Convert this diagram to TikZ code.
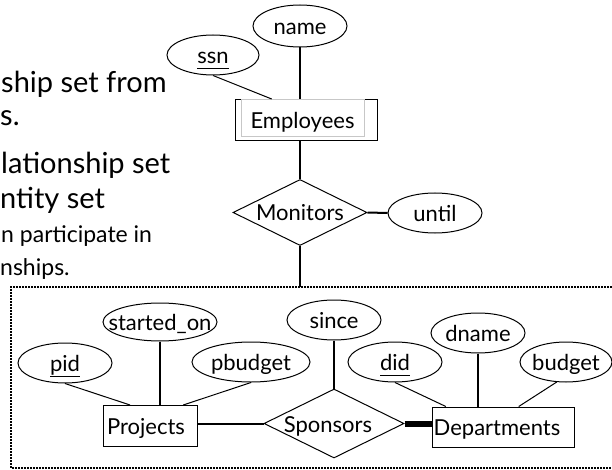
\documentclass[tikz,border=0pt]{standalone}
\usepackage{fontspec}
\setmainfont{Lato}
\usetikzlibrary{shapes.geometric,calc}
\newcommand{\lbx}[3]{\smash{\makebox[0pt]{\kern#1\relax\raisebox{#2}{#3}}}}
\newcommand{\lb}[1]{\lbx{0pt}{-8.5pt}{#1}}
\newcommand{\ulx}[1]{\underline{#1\vphantom{p}}}
\tikzset{
  base/.style={line width=1pt, inner sep=0pt, font=\fontsize{22}{26}\selectfont},
  attr/.style={base, ellipse, draw},
  entity/.style={base, rectangle, draw},
  rel/.style={base, diamond, draw},
  conn/.style={line width=1pt},
  connb/.style={line width=2pt},
  dotbox/.style={line width=2pt, dash pattern=on 1.6pt off 1.4pt},
  bigtxt/.style={anchor=base west, inner sep=0pt, font=\fontsize{29}{34}\selectfont},
  smalltxt/.style={anchor=base west, inner sep=0pt, font=\fontsize{23}{28}\selectfont},
}
\begin{document}
\begin{tikzpicture}[x=1pt,y=-1pt]
\useasboundingbox (0,0) rectangle (612,470);

% left text (cut off by the slide edge)
\node[bigtxt] (t1) at (1,93) {ship set from};
\node[bigtxt] (t2) at (0,126) {s.};
\node[bigtxt] (t3) at (1,174) {lationship set};
\node[bigtxt] (t4) at (0,208) {ntity set};
\node[smalltxt] (t5) at (1,242) {n participate in};
\node[smalltxt] (t6) at (0,275) {nships.};

% Employees / Monitors
\node[entity, minimum width=142, minimum height=41] (emp) at (306,120) {};
\node[base, rectangle, draw=black!22, fill=white, line width=0.9pt,
      minimum width=123, minimum height=36.5] (empin) at (302.5,117.75) {\lbx{0pt}{-11pt}{Employees}};
\node[attr, minimum width=92, minimum height=40] (ssn) at (213,55) {\lb{\ulx{ssn}}};
\node[attr, minimum width=94, minimum height=42] (name) at (300,26) {\lb{name}};
\node[rel, minimum width=134, minimum height=66] (mon) at (300,212.5) {\lb{Monitors}};
\node[attr, minimum width=94, minimum height=40] (until) at (435,213) {\lb{until}};
\coordinate (boxtop) at (300,287);

\draw[conn] (ssn.south) -- ($(emp.north west)!0.26!(emp.north east)$);
\draw[line width=1.5pt] (name.south) -- (name.south |- emp.north);
\draw[connb] (mon.north) -- (mon.north |- emp.south);
\draw[connb] (mon.south) -- (boxtop);
\draw[connb] (mon.east) -- (until.west);

% aggregation box
\draw[dotbox] (612,287) -- (11,287) -- (11,468) -- (612,468);

% Projects side
\node[entity, minimum width=94, minimum height=41] (proj) at (150,426) {\lbx{-8pt}{-8.5pt}{Projects}};
\node[attr, minimum width=94, minimum height=40] (pid) at (65,363) {\lb{\ulx{pid}}};
\node[attr, minimum width=114, minimum height=38] (so) at (160,322) {\lb{started\_on}};
\node[attr, minimum width=118, minimum height=40] (pb) at (251,362) {\lb{pbudget}};

% Sponsors
\node[rel, minimum width=140, minimum height=69] (spon) at (334,423.5) {\lbx{-12pt}{-8.5pt}{Sponsors}};
\node[attr, minimum width=94, minimum height=40] (since) at (334,320) {\lb{since}};

% Departments side
\node[entity, minimum width=142, minimum height=40] (dept) at (503,427) {\lbx{-12pt}{-8.5pt}{Departments}};
\node[attr, minimum width=94, minimum height=40] (did) at (395,362) {\lb{\ulx{did}}};
\node[attr, minimum width=94, minimum height=40] (dname) at (478,333) {\lb{dname}};
\node[attr, minimum width=92, minimum height=40] (budget) at (566,362) {\lb{budget}};

\draw[conn] (pid.south) -- ($(proj.north west)!0.29!(proj.north east)$);
\draw[line width=1.3pt] (so.south) -- (so.south |- proj.north);
\draw[conn] (pb.south) -- ($(proj.north west)!0.85!(proj.north east)$);
\draw[connb] (spon.west -| proj.east) -- (spon.west);
\draw[connb] (since.south) -- (spon.north);
\draw[line width=6pt] (spon.east) -- (spon.east -| dept.west);
\draw[conn] (did.south) -- ($(dept.north west)!0.10!(dept.north east)$);
\draw[connb] (dname.south) -- (dname.south |- dept.north);
\draw[conn] (budget.245) -- ($(dept.north west)!0.61!(dept.north east)$);
\end{tikzpicture}
\end{document}
